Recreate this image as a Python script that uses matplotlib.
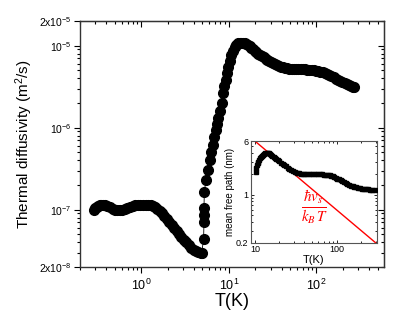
import matplotlib
matplotlib.use("Agg")
import matplotlib.pyplot as plt
from matplotlib.ticker import LogLocator, NullFormatter, FixedLocator, FixedFormatter

plt.rcParams['font.family'] = ['Liberation Sans', 'DejaVu Sans']
plt.rcParams['mathtext.fontset'] = 'custom'
plt.rcParams['mathtext.rm'] = 'Liberation Sans'
plt.rcParams['mathtext.it'] = 'Liberation Sans:italic'

# ---------------- data ----------------
T_main = [0.29, 0.30, 0.31, 0.32, 0.335, 0.35, 0.37, 0.39, 0.41, 0.44, 0.47, 0.50, 0.53, 0.57,
          0.61, 0.65, 0.69, 0.74, 0.80, 0.86, 0.92, 0.98, 1.05, 1.12, 1.2, 1.28, 1.36, 1.45,
          1.53, 1.62, 1.72, 1.83, 1.95, 2.08, 2.22, 2.37, 2.53, 2.7, 2.88, 3.07, 3.28, 3.5,
          3.73, 3.98, 4.25, 4.5, 4.75, 4.9,
          5.15, 5.2, 5.2, 5.2, 5.25,
          5.48, 5.77, 6.08, 6.32, 6.63, 6.85, 7.11, 7.35, 7.56, 7.9, 8.26, 8.61, 8.9, 9.24,
          9.5, 9.82, 10.2, 10.7, 11.2, 11.7, 12.2,
          12.8, 13.3, 13.9, 14.5, 15.1, 15.8, 16.6, 17.3, 18.0, 18.8, 19.7, 20.6, 21.6, 22.7,
          23.8, 25.0, 26.3, 27.6, 29.0, 30.5, 32, 33.7, 35.5, 37.4, 39.4, 41.5, 44, 46.5, 49,
          52, 55, 58.5, 62, 66, 70, 74, 78, 83, 88, 93, 99, 105, 111, 118, 125, 132, 140, 148,
          157, 166, 176, 187, 198, 210, 222, 235, 248, 260, 270]
D_main = [9.9e-8, 10.4e-8, 10.8e-8, 11.1e-8, 11.4e-8, 11.5e-8, 11.4e-8, 11.3e-8, 11.1e-8,
          10.7e-8, 10.3e-8, 10.0e-8, 9.8e-8, 9.8e-8, 9.9e-8, 10.2e-8, 10.5e-8, 10.8e-8,
          11.1e-8, 11.3e-8, 11.4e-8, 11.5e-8, 11.5e-8, 11.5e-8, 11.4e-8, 11.3e-8, 11.1e-8,
          10.7e-8, 10.2e-8, 9.7e-8, 9.1e-8, 8.4e-8, 7.7e-8, 7.1e-8, 6.5e-8, 6.0e-8, 5.5e-8,
          5.0e-8, 4.6e-8, 4.3e-8, 4.0e-8, 3.7e-8, 3.45e-8, 3.25e-8, 3.1e-8, 3.02e-8, 2.98e-8,
          2.97e-8,
          4.4e-8, 7.1e-8, 8.6e-8, 10.5e-8, 16.6e-8,
          2.3e-7, 3.05e-7, 4.0e-7, 5.0e-7, 6.2e-7, 7.6e-7, 9.4e-7, 1.12e-6, 1.31e-6, 1.6e-6,
          2.0e-6, 2.65e-6, 3.2e-6, 3.8e-6, 4.6e-6, 5.5e-6, 6.5e-6, 7.7e-6, 8.7e-6, 9.7e-6,
          1.03e-5,
          1.07e-5, 1.08e-5, 1.085e-5, 1.08e-5, 1.07e-5, 1.05e-5, 1.02e-5, 9.8e-6, 9.4e-6,
          9.0e-6, 8.6e-6, 8.3e-6, 8.0e-6, 7.7e-6, 7.45e-6, 7.2e-6, 6.95e-6, 6.7e-6, 6.5e-6,
          6.35e-6, 6.15e-6, 6.0e-6, 5.85e-6, 5.7e-6, 5.55e-6, 5.45e-6, 5.35e-6, 5.27e-6,
          5.2e-6, 5.17e-6, 5.15e-6, 5.15e-6, 5.15e-6, 5.15e-6, 5.15e-6, 5.13e-6, 5.1e-6,
          5.08e-6, 5.05e-6, 5.0e-6, 4.95e-6, 4.9e-6, 4.84e-6, 4.75e-6, 4.63e-6, 4.5e-6,
          4.36e-6, 4.22e-6, 4.1e-6, 3.97e-6, 3.83e-6, 3.7e-6, 3.58e-6, 3.47e-6, 3.37e-6,
          3.28e-6, 3.21e-6, 3.17e-6, 3.16e-6]

T_inset = [10.2, 10.4, 10.6, 10.8, 11.0, 11.3, 11.6, 11.9, 12.2, 12.6, 13.0, 13.4, 13.9,
           14.3, 14.8, 15.3, 15.8, 16.4, 17.0, 17.7, 18.4, 19.2, 20.0, 20.9, 21.9, 22.9,
           24.0, 25.2, 26.5, 27.9, 29.4, 31.0, 32.7, 34.5, 36.5, 38.7, 41, 44, 47, 50, 54,
           58, 62, 66, 70, 74, 78, 82, 86, 90, 94, 98, 102, 107, 112, 117, 123, 129, 135,
           142, 149, 157, 165, 174, 183, 193, 204, 216, 229, 243, 258, 275, 294]
l_inset = [2.1, 2.4, 2.65, 2.85, 3.0, 3.15, 3.35, 3.5, 3.62, 3.78, 3.9, 3.98, 4.05, 4.05,
           3.98, 3.88, 3.78, 3.66, 3.55, 3.42, 3.3, 3.16, 3.04, 2.92, 2.8, 2.68, 2.57, 2.46,
           2.37, 2.28, 2.2, 2.12, 2.07, 2.03, 2.0, 1.99, 1.98, 1.97, 1.97, 1.97, 1.97, 1.97,
           1.97, 1.96, 1.95, 1.94, 1.92, 1.9, 1.87, 1.84, 1.8, 1.76, 1.71, 1.66, 1.61, 1.56,
           1.51, 1.47, 1.43, 1.39, 1.35, 1.32, 1.29, 1.27, 1.25, 1.235, 1.22, 1.21, 1.2,
           1.19, 1.185, 1.18, 1.18]

T_line = [10, 300]
l_line = [6, 0.2]

main_yticks = [2e-8, 1e-7, 1e-6, 1e-5, 2e-5]
main_yticklabels = [r'$2\mathregular{x}10^{-8}$', r'$10^{-7}$', r'$10^{-6}$', r'$10^{-5}$',
                    r'$2\mathregular{x}10^{-5}$']
main_xticks = [1, 10, 100]
main_xticklabels = [r'$10^{0}$', r'$10^{1}$', r'$10^{2}$']
inset_xticks = [10, 100]
inset_xticklabels = ['10', '100']
inset_yticks = [0.2, 1, 6]
inset_yticklabels = ['0.2', '1', '6']

# ---------------- figure ----------------
fig = plt.figure(figsize=(4.15, 3.12), dpi=100)
ax = fig.add_axes([80/415, 1-267/312, (384-80)/415, (267-21)/312])

ax.plot(T_main, D_main, '-', color='black', lw=0.6, zorder=2)
ax.plot(T_main, D_main, 'o', color='black', ms=7, mec='black', zorder=3)
ax.set_xscale('log')
ax.set_yscale('log')
ax.set_xlim(0.2, 590)
ax.set_ylim(2e-8, 2e-5)

ax.yaxis.set_major_locator(FixedLocator(main_yticks))
ax.yaxis.set_major_formatter(FixedFormatter(main_yticklabels))
ax.yaxis.set_minor_locator(LogLocator(base=10, subs=range(2, 10), numticks=20))
ax.yaxis.set_minor_formatter(NullFormatter())
ax.xaxis.set_major_locator(FixedLocator(main_xticks))
ax.xaxis.set_major_formatter(FixedFormatter(main_xticklabels))
ax.xaxis.set_minor_locator(LogLocator(base=10, subs=range(2, 10), numticks=20))
ax.xaxis.set_minor_formatter(NullFormatter())

ax.tick_params(which='both', direction='out', top=False, right=False, width=0.8)
ax.tick_params(axis='x', labelsize=9)
ax.tick_params(axis='y', labelsize=7.5, pad=2)
ax.tick_params(which='major', length=4)
ax.tick_params(which='minor', length=2)
for sp in ax.spines.values():
    sp.set_linewidth(1.0)
    sp.set_color('#333333')

secx = ax.secondary_xaxis('top')
secx.xaxis.set_major_locator(FixedLocator(main_xticks))
secx.xaxis.set_minor_locator(LogLocator(base=10, subs=range(2, 10), numticks=20))
secx.tick_params(which='both', direction='in', labeltop=False, width=0.8)
secx.tick_params(which='major', length=4)
secx.tick_params(which='minor', length=2)
secy = ax.secondary_yaxis('right')
secy.yaxis.set_major_locator(FixedLocator([1e-7, 1e-6, 1e-5]))
secy.yaxis.set_minor_locator(LogLocator(base=10, subs=range(2, 10), numticks=20))
secy.tick_params(which='both', direction='in', labelright=False, width=0.8)
secy.tick_params(which='major', length=4)
secy.tick_params(which='minor', length=2)

ax.set_xlabel('T(K)', fontsize=13, labelpad=0)
ax.set_ylabel(r'Thermal diffusivity (m$^{2}$/s)', fontsize=11, labelpad=3)

# ---------------- inset ----------------
ins = fig.add_axes([250.7/415, 1-242.7/312, (376.7-250.7)/415, (242.7-141)/312])
ins.plot(T_inset, l_inset, 's', color='black', ms=2.8, zorder=3)
ins.plot(T_line, l_line, '-', color='#ff0000', lw=1.0, zorder=2)
ins.set_xscale('log')
ins.set_yscale('log')
ins.set_xlim(8.9, 310)
ins.set_ylim(0.2, 6)
ins.xaxis.set_major_locator(FixedLocator(inset_xticks))
ins.xaxis.set_major_formatter(FixedFormatter(inset_xticklabels))
ins.xaxis.set_minor_locator(LogLocator(base=10, subs=range(2, 10), numticks=20))
ins.xaxis.set_minor_formatter(NullFormatter())
ins.yaxis.set_major_locator(FixedLocator(inset_yticks))
ins.yaxis.set_major_formatter(FixedFormatter(inset_yticklabels))
ins.yaxis.set_minor_locator(LogLocator(base=10, subs=range(2, 10), numticks=20))
ins.yaxis.set_minor_formatter(NullFormatter())
ins.tick_params(which='both', direction='in', top=True, right=True, labelsize=6.5,
                width=0.6, pad=1.5)
ins.tick_params(which='major', length=2.5)
ins.tick_params(which='minor', length=1.5)
for sp in ins.spines.values():
    sp.set_linewidth(0.8)
    sp.set_color('#555555')
ins.set_xlabel('T(K)', fontsize=8, labelpad=1)
ins.set_ylabel('mean free path (nm)', fontsize=7, labelpad=1)
ins.text(0.505, 0.35, r'$\frac{\hbar v_s}{k_B\,T}$', transform=ins.transAxes,
         color='#ff0000', fontsize=15.5, ha='center', va='center', math_fontfamily='stix')

fig.savefig('out.png', dpi=100)
